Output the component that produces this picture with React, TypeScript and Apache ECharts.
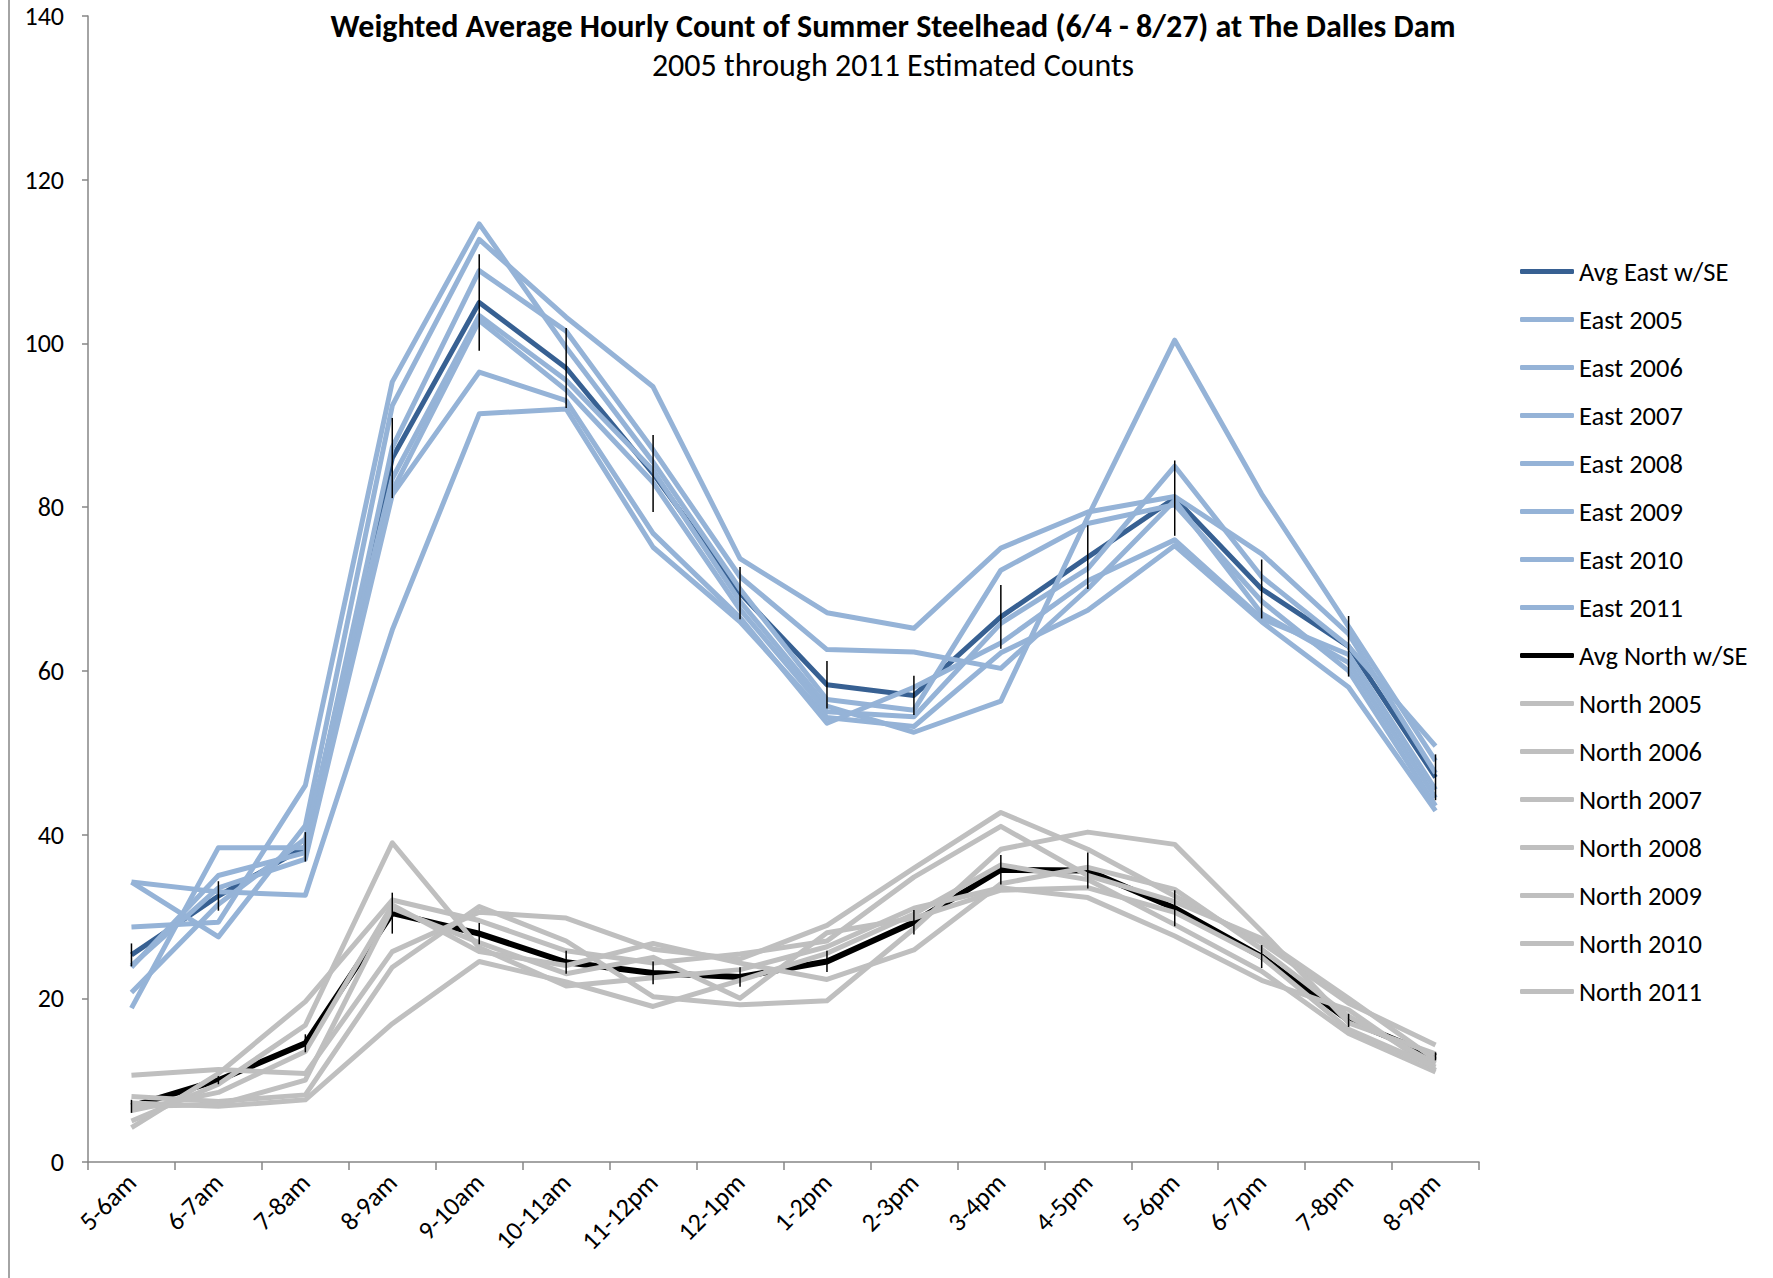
import React, { useEffect, useRef } from "react";
import * as echarts from "echarts";

const categories = ["5-6am", "6-7am", "7-8am", "8-9am", "9-10am", "10-11am", "11-12pm", "12-1pm", "1-2pm", "2-3pm", "3-4pm", "4-5pm", "5-6pm", "6-7pm", "7-8pm", "8-9pm"];

const avgEast = [25.3, 32.5, 38.5, 86.0, 105.0, 97.0, 84.1, 69.5, 58.3, 57.0, 66.6, 73.9, 81.1, 70.0, 63.0, 47.0];
const seEast = [1.4, 1.8, 1.8, 4.9, 5.9, 4.9, 4.7, 3.2, 2.9, 2.4, 3.9, 3.9, 4.6, 3.6, 3.7, 2.8];
const east2005 = [34.2, 33.0, 32.6, 65.0, 91.4, 92.0, 75.1, 66.0, 54.3, 53.2, 62.2, 67.4, 75.3, 66.0, 58.0, 42.9];
const east2006 = [34.2, 27.5, 41.1, 92.4, 112.7, 103.2, 94.7, 73.7, 67.1, 65.2, 75.0, 79.4, 81.3, 74.3, 64.5, 47.5];
const east2007 = [28.7, 29.3, 46.0, 95.3, 114.6, 99.5, 85.5, 70.0, 56.5, 55.2, 72.3, 78.0, 80.3, 68.5, 60.0, 43.5];
const east2008 = [18.8, 38.4, 38.4, 87.3, 108.9, 101.5, 87.0, 71.5, 62.6, 62.3, 60.3, 70.0, 80.8, 67.0, 61.0, 44.5];
const east2009 = [20.7, 31.5, 39.5, 83.5, 103.4, 95.5, 84.5, 68.5, 55.7, 52.5, 56.3, 78.8, 100.4, 81.6, 65.4, 49.0];
const east2010 = [23.8, 35.0, 37.8, 82.0, 102.8, 94.3, 83.0, 67.5, 55.0, 54.4, 65.8, 72.5, 85.0, 71.5, 63.0, 50.8];
const east2011 = [24.0, 33.5, 37.0, 81.5, 96.5, 93.0, 76.8, 66.5, 53.6, 58.0, 63.4, 71.0, 76.0, 66.4, 62.0, 45.5];

const avgNorth = [6.8, 10.0, 14.5, 30.4, 27.9, 24.4, 23.1, 22.6, 24.5, 29.3, 35.7, 35.6, 31.0, 25.1, 17.3, 12.9];
const seNorth = [0.8, 0.5, 1.1, 2.5, 1.3, 1.4, 1.4, 1.2, 1.3, 1.5, 1.8, 2.2, 2.2, 1.4, 0.8, 0.5];
const north2005 = [10.6, 11.3, 10.8, 25.7, 30.5, 29.8, 26.0, 24.8, 28.9, 35.9, 42.7, 38.2, 32.5, 26.8, 19.4, 14.3];
const north2006 = [8.0, 7.4, 8.2, 23.8, 31.2, 27.0, 20.2, 19.2, 19.7, 28.5, 38.2, 40.3, 38.8, 28.2, 17.0, 13.2];
const north2007 = [4.2, 10.8, 19.6, 32.0, 29.5, 25.8, 24.3, 25.4, 27.0, 34.8, 41.0, 35.0, 31.8, 27.3, 20.0, 12.5];
const north2008 = [7.2, 6.8, 7.6, 16.9, 24.5, 22.0, 19.0, 22.2, 25.5, 30.3, 36.3, 34.5, 29.0, 23.3, 15.7, 11.0];
const north2009 = [5.0, 9.5, 16.7, 39.0, 26.2, 21.5, 22.5, 23.5, 26.3, 31.0, 33.5, 32.3, 27.6, 22.2, 18.6, 11.2];
const north2010 = [6.3, 8.5, 13.5, 31.4, 25.7, 24.0, 26.7, 24.3, 22.3, 25.9, 34.0, 36.0, 33.3, 26.0, 17.8, 12.0];
const north2011 = [6.8, 7.0, 10.0, 31.0, 26.8, 23.0, 25.0, 20.0, 28.0, 29.8, 33.2, 33.5, 30.5, 25.0, 16.2, 11.6];

const yTicks = { min: 0, max: 140, interval: 20 };

const titleText = "Weighted Average Hourly Count of Summer Steelhead (6/4 - 8/27) at The Dalles Dam";
const subtitleText = "2005 through 2011 Estimated Counts";

const FONT = 'Carlito, "Liberation Sans Narrow", "Arial Narrow", Lato, sans-serif';

const LIGHT_BLUE = "#95B3D7";
const DARK_BLUE = "#376092";
const GRAY = "#BFBFBF";
const BLACK = "#000000";

export default function App() {
  const ref = useRef<HTMLDivElement>(null);

  useEffect(() => {
    if (!ref.current) return;
    const chart = echarts.init(ref.current, null, { renderer: "svg" });

    const lineSeries = (name: string, data: number[], color: string, width: number) => ({
      name,
      type: "line",
      data,
      symbol: "none",
      showSymbol: false,
      lineStyle: { color, width, join: "round" },
      itemStyle: { color },
      emphasis: { disabled: true },
    });

    const errData = (avg: number[], se: number[]) =>
      categories.map((_, i) => [i, avg[i] - se[i], avg[i] + se[i]]);

    const errSeries = (data: number[][]) => ({
      type: "custom",
      data,
      encode: { x: 0, y: [1, 2] },
      z: 5,
      renderItem: (params: any, api: any) => {
        const x = api.value(0);
        const lo = api.coord([x, api.value(1)]);
        const hi = api.coord([x, api.value(2)]);
        return {
          type: "line",
          shape: { x1: lo[0], y1: lo[1], x2: hi[0], y2: hi[1] },
          style: { stroke: BLACK, lineWidth: 1.5 },
        };
      },
    });

    const eastSeries = [
      ["East 2005", east2005],
      ["East 2006", east2006],
      ["East 2007", east2007],
      ["East 2008", east2008],
      ["East 2009", east2009],
      ["East 2010", east2010],
      ["East 2011", east2011],
    ] as [string, number[]][];
    const northSeries = [
      ["North 2005", north2005],
      ["North 2006", north2006],
      ["North 2007", north2007],
      ["North 2008", north2008],
      ["North 2009", north2009],
      ["North 2010", north2010],
      ["North 2011", north2011],
    ] as [string, number[]][];

    const legendNames = [
      "Avg East w/SE",
      ...eastSeries.map((s) => s[0]),
      "Avg North w/SE",
      ...northSeries.map((s) => s[0]),
    ];

    chart.setOption({
      animation: false,
      backgroundColor: "#ffffff",
      title: {
        text: titleText,
        subtext: subtitleText,
        left: 888,
        top: 4,
        textAlign: "center",
        itemGap: 5,
        textStyle: { fontFamily: FONT, fontWeight: "bold", fontSize: 32, lineHeight: 34, color: "#000" },
        subtextStyle: { fontFamily: FONT, fontSize: 32, lineHeight: 34, color: "#000" },
      },
      legend: {
        data: legendNames,
        orient: "vertical",
        left: 1515,
        top: 253,
        itemWidth: 54,
        itemHeight: 5,
        itemGap: 21,
        icon: "roundRect",
        selectedMode: false,
        textStyle: { fontFamily: FONT, fontSize: 26.5, color: "#000", padding: [0, 0, 0, 0] },
      },
      grid: { left: 88, right: 294, top: 16, bottom: 116, containLabel: false },
      xAxis: {
        type: "category",
        data: categories,
        boundaryGap: true,
        axisLine: { lineStyle: { color: "#868686", width: 1.5 } },
        axisTick: { show: true, length: 8, lineStyle: { color: "#868686", width: 1.5 } },
        axisLabel: { rotate: 45, margin: 16, fontFamily: FONT, fontSize: 26, color: "#000", interval: 0 },
        splitLine: { show: false },
      },
      yAxis: {
        type: "value",
        min: yTicks.min,
        max: yTicks.max,
        interval: yTicks.interval,
        axisLine: { show: true, lineStyle: { color: "#868686", width: 1.5 } },
        axisTick: { show: true, length: 6, lineStyle: { color: "#868686", width: 1.5 } },
        axisLabel: { margin: 24, fontFamily: FONT, fontSize: 26, color: "#000" },
        splitLine: { show: false },
      },
      graphic: [
        {
          type: "line",
          shape: { x1: 9, y1: 0, x2: 9, y2: 1278 },
          style: { stroke: "#868686", lineWidth: 1.5 },
        },
      ],
      series: [
        lineSeries("Avg East w/SE", avgEast, DARK_BLUE, 5),
        ...eastSeries.map((s) => lineSeries(s[0], s[1], LIGHT_BLUE, 5)),
        lineSeries("Avg North w/SE", avgNorth, BLACK, 6),
        ...northSeries.map((s) => lineSeries(s[0], s[1], GRAY, 5)),
        errSeries(errData(avgEast, seEast)),
        errSeries(errData(avgNorth, seNorth)),
      ],
    });

    return () => chart.dispose();
  }, []);

  return (
    <div
      ref={ref}
      style={{ position: "fixed", left: 0, top: 0, width: 1773, height: 1278, background: "#fff" }}
    />
  );
}
